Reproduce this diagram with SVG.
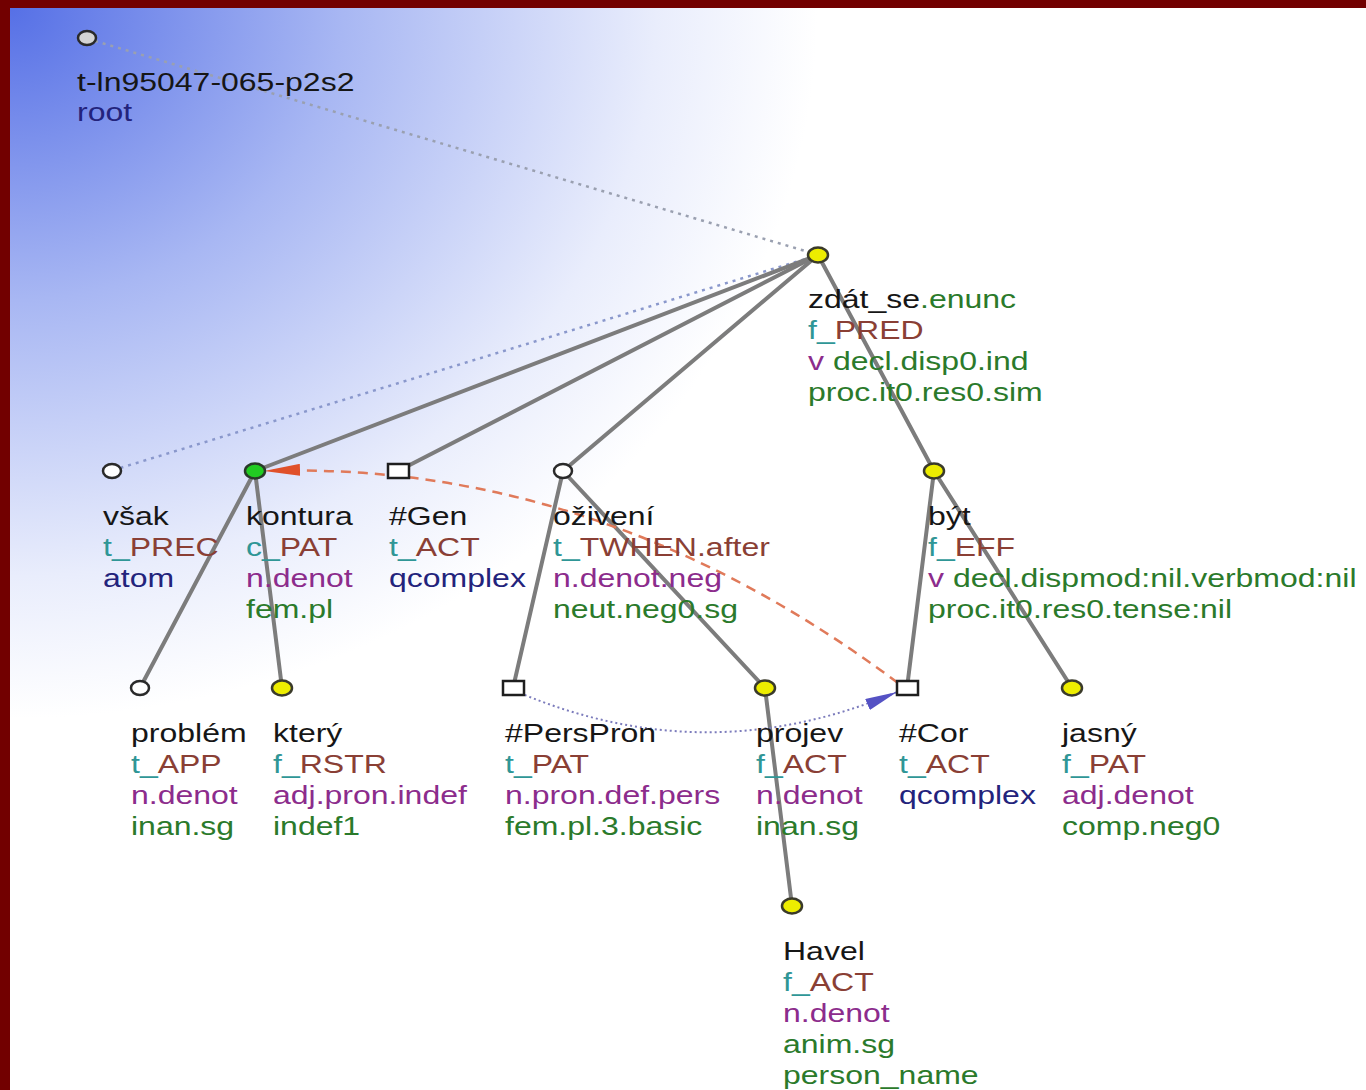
<svg xmlns="http://www.w3.org/2000/svg" width="1366" height="1090" viewBox="0 0 1366 1090">
<defs>
<radialGradient id="bg" gradientUnits="userSpaceOnUse" cx="10" cy="8" r="950" gradientTransform="translate(10,8) scale(1,0.88) translate(-10,-8)">
<stop offset="0" stop-color="#5670e6"/>
<stop offset="0.35" stop-color="#a8b7f3"/>
<stop offset="0.68" stop-color="#e9edfc"/>
<stop offset="0.85" stop-color="#ffffff"/>
</radialGradient>
<marker id="arRed" viewBox="0 0 36 12" refX="36" refY="6" markerWidth="36" markerHeight="12" markerUnits="userSpaceOnUse" orient="auto">
<path d="M0,0 L36,6 L0,12 z" fill="#e0502a"/>
</marker>
<marker id="arBlue" viewBox="0 0 32 12" refX="32" refY="6" markerWidth="32" markerHeight="12" markerUnits="userSpaceOnUse" orient="auto">
<path d="M0,0 L32,6 L0,12 z" fill="#5552c4"/>
</marker>
</defs>
<style>
text{font-family:"Liberation Sans",Arial,sans-serif;font-size:25px;fill:#161616}
.te{fill:#2f9696}.fn{fill:#8a3f35}.nv{fill:#23237c}.pu{fill:#8c2c8c}.gr{fill:#2b7a2b}
.e{stroke:#7c7c7c;stroke-width:4;fill:none;stroke-linecap:round}
.c{fill:#ffffff;stroke:#2a2a2a;stroke-width:2.5}
.y{fill:#eded00;stroke:#3a3a2a;stroke-width:2.5}
.g{fill:#22cc22;stroke:#2a3a2a;stroke-width:2.5}
.s{fill:#ffffff;stroke:#1e1e1e;stroke-width:2.5}
</style>
<rect x="0" y="0" width="1366" height="1090" fill="#ffffff"/>
<rect x="10" y="8" width="1356" height="1082" fill="url(#bg)"/>
<rect x="0" y="0" width="1366" height="8" fill="#720000"/>
<rect x="0" y="0" width="10" height="1090" fill="#720000"/>

<g id="connectors">
<line x1="95" y1="41" x2="812" y2="253" stroke="#9aa0b0" stroke-width="2.5" stroke-dasharray="3,5"/>
<line x1="812" y1="257" x2="120" y2="468" stroke="#8a98cc" stroke-width="2.5" stroke-dasharray="3,5"/>
<line class="e" x1="818" y1="255" x2="255" y2="471"/>
<line class="e" x1="818" y1="255" x2="398" y2="471"/>
<line class="e" x1="818" y1="255" x2="563" y2="471"/>
<line class="e" x1="818" y1="255" x2="934" y2="471"/>
<line class="e" x1="255" y1="471" x2="140" y2="688"/>
<line class="e" x1="255" y1="471" x2="282" y2="688"/>
<line class="e" x1="563" y1="471" x2="513" y2="688"/>
<line class="e" x1="563" y1="471" x2="765" y2="688"/>
<line class="e" x1="934" y1="471" x2="907" y2="688"/>
<line class="e" x1="934" y1="471" x2="1072" y2="688"/>
<line class="e" x1="765" y1="688" x2="792" y2="906"/>
<path d="M898,683 Q600,460 264,471" fill="none" stroke="#e07a5a" stroke-width="2.5" stroke-dasharray="10,7" marker-end="url(#arRed)"/>
<path d="M520,693 Q708,772 897,692" fill="none" stroke="#7c7cbc" stroke-width="2" stroke-dasharray="2,3" marker-end="url(#arBlue)"/>
</g>

<g id="n-root">
<ellipse class="c" cx="87" cy="38" rx="9" ry="7" style="fill:#d4d4d4"/>
<g transform="translate(77,91) scale(1.28,1)">
<text x="0" y="0">t-ln95047-065-p2s2</text>
<text x="0" y="30" class="nv">root</text>
</g>
</g>

<g id="n-zdat">
<ellipse class="y" cx="818" cy="255" rx="10" ry="7.5"/>
<g transform="translate(808,308) scale(1.28,1)">
<text x="0" y="0">zdát_se<tspan class="gr">.enunc</tspan></text>
<text x="0" y="31"><tspan class="te">f_</tspan><tspan class="fn">PRED</tspan></text>
<text x="0" y="62"><tspan class="pu">v</tspan><tspan class="gr"> decl.disp0.ind</tspan></text>
<text x="0" y="93" class="gr">proc.it0.res0.sim</text>
</g>
</g>

<g id="n-vsak">
<ellipse class="c" cx="112" cy="471" rx="9" ry="7"/>
<g transform="translate(103,525) scale(1.28,1)">
<text x="0" y="0">však</text>
<text x="0" y="31"><tspan class="te">t_</tspan><tspan class="fn">PREC</tspan></text>
<text x="0" y="62" class="nv">atom</text>
</g>
</g>

<g id="n-kontura">
<ellipse class="g" cx="255" cy="471" rx="10" ry="7.5"/>
<g transform="translate(246,525) scale(1.28,1)">
<text x="0" y="0">kontura</text>
<text x="0" y="31"><tspan class="te">c_</tspan><tspan class="fn">PAT</tspan></text>
<text x="0" y="62" class="pu">n.denot</text>
<text x="0" y="93" class="gr">fem.pl</text>
</g>
</g>

<g id="n-gen">
<rect class="s" x="388" y="464" width="21" height="14"/>
<g transform="translate(389,525) scale(1.28,1)">
<text x="0" y="0">#Gen</text>
<text x="0" y="31"><tspan class="te">t_</tspan><tspan class="fn">ACT</tspan></text>
<text x="0" y="62" class="nv">qcomplex</text>
</g>
</g>

<g id="n-ozivENI">
<ellipse class="c" cx="563" cy="471" rx="9" ry="7"/>
<g transform="translate(553,525) scale(1.28,1)">
<text x="0" y="0">oživení</text>
<text x="0" y="31"><tspan class="te">t_</tspan><tspan class="fn">TWHEN.after</tspan></text>
<text x="0" y="62" class="pu">n.denot.neg</text>
<text x="0" y="93" class="gr">neut.neg0.sg</text>
</g>
</g>

<g id="n-byt">
<ellipse class="y" cx="934" cy="471" rx="10" ry="7.5"/>
<g transform="translate(928,525) scale(1.28,1)">
<text x="0" y="0">být</text>
<text x="0" y="31"><tspan class="te">f_</tspan><tspan class="fn">EFF</tspan></text>
<text x="0" y="62"><tspan class="pu">v</tspan><tspan class="gr"> decl.dispmod:nil.verbmod:nil</tspan></text>
<text x="0" y="93" class="gr">proc.it0.res0.tense:nil</text>
</g>
</g>

<g id="n-problem">
<ellipse class="c" cx="140" cy="688" rx="9" ry="7"/>
<g transform="translate(131,742) scale(1.28,1)">
<text x="0" y="0">problém</text>
<text x="0" y="31"><tspan class="te">t_</tspan><tspan class="fn">APP</tspan></text>
<text x="0" y="62" class="pu">n.denot</text>
<text x="0" y="93" class="gr">inan.sg</text>
</g>
</g>

<g id="n-ktery">
<ellipse class="y" cx="282" cy="688" rx="10" ry="7.5"/>
<g transform="translate(273,742) scale(1.28,1)">
<text x="0" y="0">který</text>
<text x="0" y="31"><tspan class="te">f_</tspan><tspan class="fn">RSTR</tspan></text>
<text x="0" y="62" class="pu">adj.pron.indef</text>
<text x="0" y="93" class="gr">indef1</text>
</g>
</g>

<g id="n-perspron">
<rect class="s" x="503" y="681" width="21" height="14"/>
<g transform="translate(505,742) scale(1.28,1)">
<text x="0" y="0">#PersPron</text>
<text x="0" y="31"><tspan class="te">t_</tspan><tspan class="fn">PAT</tspan></text>
<text x="0" y="62" class="pu">n.pron.def.pers</text>
<text x="0" y="93" class="gr">fem.pl.3.basic</text>
</g>
</g>

<g id="n-projev">
<ellipse class="y" cx="765" cy="688" rx="10" ry="7.5"/>
<g transform="translate(756,742) scale(1.28,1)">
<text x="0" y="0">projev</text>
<text x="0" y="31"><tspan class="te">f_</tspan><tspan class="fn">ACT</tspan></text>
<text x="0" y="62" class="pu">n.denot</text>
<text x="0" y="93" class="gr">inan.sg</text>
</g>
</g>

<g id="n-cor">
<rect class="s" x="897" y="681" width="21" height="14"/>
<g transform="translate(899,742) scale(1.28,1)">
<text x="0" y="0">#Cor</text>
<text x="0" y="31"><tspan class="te">t_</tspan><tspan class="fn">ACT</tspan></text>
<text x="0" y="62" class="nv">qcomplex</text>
</g>
</g>

<g id="n-jasny">
<ellipse class="y" cx="1072" cy="688" rx="10" ry="7.5"/>
<g transform="translate(1062,742) scale(1.28,1)">
<text x="0" y="0">jasný</text>
<text x="0" y="31"><tspan class="te">f_</tspan><tspan class="fn">PAT</tspan></text>
<text x="0" y="62" class="pu">adj.denot</text>
<text x="0" y="93" class="gr">comp.neg0</text>
</g>
</g>

<g id="n-havel">
<ellipse class="y" cx="792" cy="906" rx="10" ry="7.5"/>
<g transform="translate(783,960) scale(1.28,1)">
<text x="0" y="0">Havel</text>
<text x="0" y="31"><tspan class="te">f_</tspan><tspan class="fn">ACT</tspan></text>
<text x="0" y="62" class="pu">n.denot</text>
<text x="0" y="93" class="gr">anim.sg</text>
<text x="0" y="124" class="gr">person_name</text>
</g>
</g>
</svg>
